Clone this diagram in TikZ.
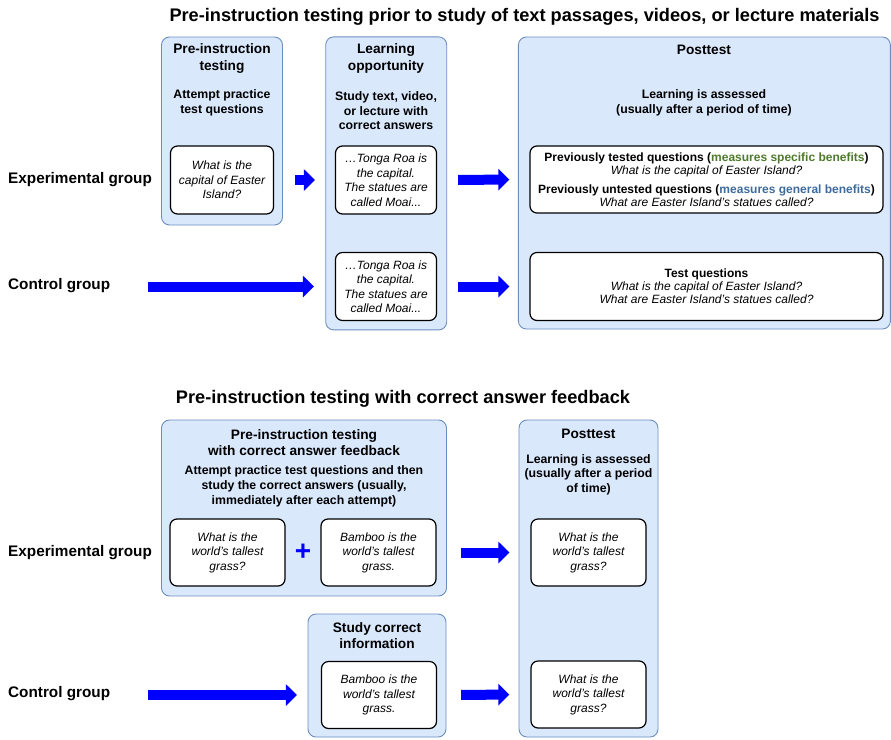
\documentclass[tikz,border=0pt]{standalone}
\usepackage{fontspec}
\setmainfont{Liberation Sans}
\usetikzlibrary{arrows.meta,positioning}
\definecolor{panelfill}{HTML}{DAE8FC}
\definecolor{paneldraw}{HTML}{6C8EBF}
\definecolor{grn}{HTML}{4E7A2E}
\definecolor{blu}{HTML}{3D6B9E}

\begin{document}
\begin{tikzpicture}[
				x=1pt, y=-1pt,
				panel/.style={draw=paneldraw, fill=panelfill, line width=0.9pt, rounded corners=8pt, inner sep=0pt},
				qbox/.style={draw, fill=white, line width=1.2pt, rounded corners=7pt, inner sep=0pt, align=center, font=\fontsize{12}{14.5}\selectfont\itshape},
				head/.style={align=center, inner sep=0pt, font=\fontsize{13.7}{16.5}\selectfont\bfseries},
				sub/.style={align=center, inner sep=0pt, font=\fontsize{12.3}{14.5}\selectfont\bfseries},
				grp/.style={anchor=west, inner sep=0pt, font=\fontsize{15.3}{18}\selectfont\bfseries},
				ttl/.style={inner sep=0pt, font=\fontsize{18.2}{20}\selectfont\bfseries},
				flow/.style={draw=blue, line width=10pt, -{Triangle[length=11pt,width=21pt]}}
				]
				
				\useasboundingbox (0,0) rectangle (891,739);
				
				\node[ttl] (title1) at (524.5,16.5) {Pre-instruction testing prior to study of text passages, videos, or lecture materials};
				
				\node[panel, minimum width=121pt, minimum height=188pt] (pre) at (222,131) {};
				\node[panel, minimum width=121pt, minimum height=293pt] (learn) at (386.2,183.4) {};
				\node[panel, minimum width=372pt, minimum height=292pt] (post) at (704.4,183) {};
				
				\node[head] (prehead) at (222,58.5) {Pre-instruction\\testing};
				\node[sub] (presub) at (222,103) {Attempt practice\\test questions};
				\node[qbox, minimum width=103pt, minimum height=68pt] (q1) at (222,180) {What is the\\capital of Easter\\Island?};
				
				\node[head] (learnhead) at (386,58.5) {Learning\\opportunity};
				\node[sub] (learnsub) at (386,111) {Study text, video,\\or lecture with\\correct answers};
				\node[qbox, minimum width=101pt, minimum height=68pt] (l1) at (386,180) {\ldots Tonga Roa is\\the capital.\\The statues are\\called Moai...};
				\node[qbox, minimum width=101pt, minimum height=68pt] (l2) at (386,286.5) {\ldots Tonga Roa is\\the capital.\\The statues are\\called Moai...};
				
				\node[head] (posthead) at (704,50) {Posttest};
				\node[sub] (postsub) at (704,103) {Learning is assessed\\(usually after a period of time)};
				\node[qbox, minimum width=353pt, minimum height=67pt, font=\fontsize{12}{13}\selectfont\bfseries] (ta) at (706.5,179.5)
					{Previously tested questions ({\color{grn}measures specific benefits})\\
					{\mdseries\itshape What is the capital of Easter Island?}\\[6pt]
					Previously untested questions ({\color{blu}measures general benefits})\\
					{\mdseries\itshape What are Easter Island’s statues called?}};
				\node[qbox, minimum width=353pt, minimum height=68pt, font=\fontsize{12}{13}\selectfont\bfseries] (tb) at (706.5,286.5)
					{Test questions\\
					{\mdseries\itshape What is the capital of Easter Island?}\\
					{\mdseries\itshape What are Easter Island’s statues called?}};
				
				\node[grp] (exp1) at (8,179.5) {Experimental group};
				\node[grp] (ctl1) at (8,285.5) {Control group};
				
				\draw[flow, shorten <=21pt, shorten >=20pt] (q1.east) -- (l1.west);
				\draw[flow, shorten <=21pt, shorten >=20pt] (l1.east) -- (ta.west);
				\draw[flow, shorten <=38pt, shorten >=21pt] (l2.west -| ctl1.east) -- (l2.west);
				\draw[flow, shorten <=21pt, shorten >=20pt] (l2.east) -- (tb.west);
				
				\node[ttl] (title2) at (403,399) {Pre-instruction testing with correct answer feedback};
				
				\node[panel, minimum width=285pt, minimum height=176pt] (fb) at (304,508) {};
				\node[panel, minimum width=139pt, minimum height=317pt] (post2) at (588.5,578.5) {};
				\node[panel, minimum width=138pt, minimum height=123pt] (study) at (377,675.5) {};
				
				\node[head, font=\fontsize{13.7}{16}\selectfont\bfseries] (fbhead) at (304,443) {Pre-instruction testing\\with correct answer feedback};
				\node[sub, font=\fontsize{12.3}{15}\selectfont\bfseries] (fbsub) at (304,486) {Attempt practice test questions and then\\study the correct answers (usually,\\immediately after each attempt)};
				\node[qbox, minimum width=115pt, minimum height=67pt] (pa) at (227.5,552.5) {What is the\\world’s tallest\\grass?};
				\node[qbox, minimum width=115pt, minimum height=67pt] (pb) at (378.5,552.5) {Bamboo is the\\world’s tallest\\grass.};
				\node[inner sep=0pt, text=blue, font=\fontsize{28}{28}\selectfont\bfseries] (plus) at (303,552) {+};
				
				\node[head] (post2head) at (588.5,434) {Posttest};
				\node[sub] (post2sub) at (588.5,474.5) {Learning is assessed\\(usually after a period\\of time)};
				\node[qbox, minimum width=115pt, minimum height=67pt] (pc) at (588.5,552.5) {What is the\\world’s tallest\\grass?};
				\node[qbox, minimum width=115pt, minimum height=67pt] (pd) at (588.5,694.5) {What is the\\world’s tallest\\grass?};
				
				\node[head, font=\fontsize{13.7}{16}\selectfont\bfseries] (studyhead) at (377,636) {Study correct\\information};
				\node[qbox, minimum width=115pt, minimum height=67pt] (pe) at (379,695) {Bamboo is the\\world’s tallest\\grass.};
				
				\node[grp] (exp2) at (8,553) {Experimental group};
				\node[grp] (ctl2) at (8,694) {Control group};
				
				\draw[flow, shorten <=24pt, shorten >=21pt] (pb.east) -- (pc.west);
				\draw[flow, shorten <=38pt, shorten >=24pt] (pe.west -| ctl2.east) -- (pe.west);
				\draw[flow, shorten <=24pt, shorten >=21pt] (pe.east) -- (pd.west);
				
			\end{tikzpicture}
\end{document}
